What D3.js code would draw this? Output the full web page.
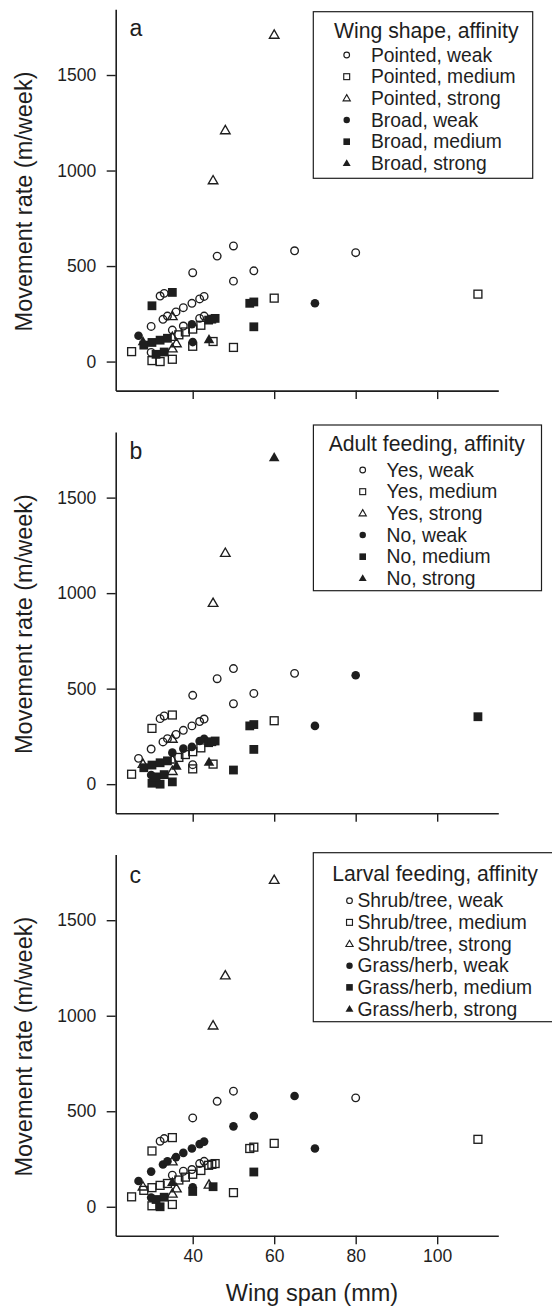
<!DOCTYPE html>
<html><head><meta charset="utf-8">
<script src="https://cdn.jsdelivr.net/npm/d3@7"></script>
<style>body{margin:0;background:#fff}svg{display:block}</style>
</head><body><svg id="chart" width="552" height="1306"></svg>
<script>
// ---- data (one entry per species, same order in every array) ----
const wingSpan = [60,48,45,50,46,65,80,40,55,50,70,60,110,54,55,55,50,
  32,33,35,30,29.8,32.7,33.8,35.9,37.7,39.8,41.7,42.8,35,26.7,
  37.7,39.8,41.7,42.8,43.9,44.7,45.5,40,42,38.2,36.6,35,
  25,27.8,28,30,29.8,30,32,35,33,32,35,36,35,40,40,44,45,31,33.8];
const moveRate = [1710,1210,948,605,552,580,570,465,475,421,305,332,353,305,312,182,74,
  343,357,362,292,184,221,238,260,282,305,328,341,237,135,
  186,195,226,238,217,222,226,170,190,155,140,165,
  52,105,86,100,48,5,0,12,50,112,128,95,68,102,80,115,105,38,122];
const affinity = ["strong","strong","strong","weak","weak","weak","weak","weak","weak","weak","weak","medium","medium","medium","medium","medium","medium",
  "weak","weak","medium","medium","weak","weak","weak","weak","weak","weak","weak","weak","strong","weak",
  "weak","weak","weak","weak","medium","medium","medium","medium","medium","medium","medium","weak",
  "medium","strong","medium","medium","weak","medium","medium","medium","medium","medium","strong","strong","strong","weak","medium","strong","medium","medium","medium"];
const wingShape = ["P","P","P","P","P","P","P","P","P","P","B","P","P","B","B","B","P",
  "P","P","B","B","P","P","P","P","P","P","P","P","P","B",
  "P","B","P","P","B","B","B","P","P","P","P","P",
  "P","B","B","B","P","P","P","P","B","B","P","P","P","B","P","B","P","B","B"];
const adultFeeding = ["N","Y","Y","Y","Y","Y","N","Y","Y","Y","N","Y","N","N","N","N","N",
  "Y","Y","Y","Y","Y","Y","Y","Y","Y","Y","Y","Y","Y","Y",
  "N","N","N","N","N","N","N","Y","Y","Y","Y","N",
  "Y","Y","N","N","N","N","N","N","N","N","Y","N","Y","Y","Y","N","Y","N","N"];
const larvalFeeding = ["S","S","S","S","S","G","S","S","G","G","G","S","S","S","S","G","S",
  "S","S","S","S","G","G","G","G","G","G","G","G","S","G",
  "S","S","S","S","S","S","S","S","S","S","S","S",
  "S","S","S","S","G","S","G","S","G","S","G","S","S","G","G","S","G","G","S"];

const xTicks = [40,60,80,100];
const yTicks = [0,500,1000,1500];
const affinityLevels = ["weak","medium","strong"];
const panelLetters = ["a","b","c"];
const legendTitles = ["Wing shape, affinity","Adult feeding, affinity","Larval feeding, affinity"];
const legendGroups = [["Pointed","Broad"],["Yes","No"],["Shrub/tree","Grass/herb"]];
const filledCodes = ["B","N","G"];
const groupArrays = [wingShape, adultFeeding, larvalFeeding];

// ---- layout ----
const FONT = "'Liberation Sans', Arial, Helvetica, sans-serif";
const INK = "#1e1e1e";
const panelOffsets = [0, 422.6, 845.2];
const legendBoxes = [
  {x:313.3, y:11.7, w:219.4, h:166.6, tx:426.3, ty:30.7, ry:55,   sx:346.7, lx:371},
  {x:313.4, y:425,  w:228.1, h:165.7, tx:426.8, ty:444,  ry:470,  sx:362.7, lx:386.6},
  {x:313.3, y:852.7,w:250,   h:169,   tx:435,   ty:873.3,ry:900.7,sx:349.5, lx:357.5}
];
const rowStep = 21.67;

const svg = d3.select("#chart");
const x = d3.scaleLinear().domain([21.1, 115]).range([115.7, 498.3]);

function drawSymbol(g, shape, filled, cx, cy, scale) {
  const sw = 1.35 * Math.max(scale, 0.85);
  if (shape === "weak") {
    const r = (filled ? 4.3 : 3.8) * scale;
    g.append("circle").attr("cx", cx).attr("cy", cy).attr("r", r)
      .attr("fill", filled ? INK : "none").attr("stroke", filled ? "none" : INK).attr("stroke-width", sw);
  } else if (shape === "medium") {
    const s = (filled ? 8.8 : 7.9) * scale;
    g.append("rect").attr("x", cx - s/2).attr("y", cy - s/2).attr("width", s).attr("height", s)
      .attr("fill", filled ? INK : "none").attr("stroke", filled ? "none" : INK).attr("stroke-width", sw);
  } else {
    const s = (filled ? 10.6 : 9.6) * scale, h = s * Math.sqrt(3) / 2;
    const p = `M${cx},${cy - h*0.6}L${cx + s/2},${cy + h*0.4}L${cx - s/2},${cy + h*0.4}Z`;
    g.append("path").attr("d", p)
      .attr("fill", filled ? INK : "none").attr("stroke", filled ? "none" : INK).attr("stroke-width", sw)
      .attr("stroke-linejoin", "miter");
  }
}

panelLetters.forEach((letter, pi) => {
  const off = panelOffsets[pi];
  const y = d3.scaleLinear().domain([-152, 1844]).range([390.6 + off, 9.3 + off]);
  const g = svg.append("g");

  // axes
  const ya = g.append("g").attr("transform", `translate(${x.range()[0]},0)`)
    .call(d3.axisLeft(y).tickValues(yTicks).tickFormat(d3.format("d")).tickSize(9).tickSizeOuter(0).tickPadding(10.5));
  const xa = g.append("g").attr("transform", `translate(0,${y.range()[0]})`)
    .call(d3.axisBottom(x).tickValues(xTicks).tickFormat(d3.format("d")).tickSize(8.5).tickSizeOuter(0).tickPadding(5.5));
  [ya, xa].forEach(a => {
    a.select(".domain").attr("stroke", INK).attr("stroke-width", 1.6);
    a.selectAll(".tick line").attr("stroke", INK).attr("stroke-width", 1.4);
    a.selectAll(".tick text").attr("fill", INK).style("font-family", FONT).style("font-size", "17.5px");
  });
  if (pi < 2) xa.selectAll(".tick text").remove();

  // y title
  const cy = (y.range()[0] + y.range()[1]) / 2 + 1.5;
  g.append("text").attr("transform", `translate(31.5,${cy}) rotate(-90)`)
    .attr("text-anchor", "middle").attr("fill", INK)
    .style("font-family", FONT).style("font-size", "23.5px").text("Movement rate (m/week)");

  // panel letter
  g.append("text").attr("x", 129.5).attr("y", 36 + off + (pi===2 ? 1.5 : 0)).attr("fill", INK)
    .style("font-family", FONT).style("font-size", "23px").text(letter);

  // points
  const grp = groupArrays[pi];
  const pts = g.append("g");
  wingSpan.forEach((ws, i) => {
    drawSymbol(pts, affinity[i], grp[i] === filledCodes[pi], x(ws), y(moveRate[i]), 1);
  });

  // legend
  const L = legendBoxes[pi];
  const lg = g.append("g");
  lg.append("rect").attr("x", L.x).attr("y", L.y).attr("width", L.w).attr("height", L.h)
    .attr("fill", "#fff").attr("stroke", INK).attr("stroke-width", 1.2);
  lg.append("text").attr("x", L.tx).attr("y", L.ty).attr("dy", "0.35em").attr("text-anchor", "middle")
    .attr("fill", INK).style("font-family", FONT).style("font-size", "21.2px").text(legendTitles[pi]);
  let row = 0;
  legendGroups[pi].forEach((grpName, gi) => {
    affinityLevels.forEach(aff => {
      const yy = L.ry + row * rowStep;
      drawSymbol(lg, aff, gi === 1, L.sx, yy, 0.75);
      lg.append("text").attr("x", L.lx).attr("y", yy).attr("dy", "0.35em").attr("fill", INK)
        .style("font-family", FONT).style("font-size", "19.3px").text(`${grpName}, ${aff}`);
      row++;
    });
  });
});

// x title
svg.append("text").attr("x", 312).attr("y", 1301).attr("text-anchor", "middle").attr("fill", INK)
  .style("font-family", FONT).style("font-size", "23.5px").text("Wing span (mm)");
</script>
</body></html>
